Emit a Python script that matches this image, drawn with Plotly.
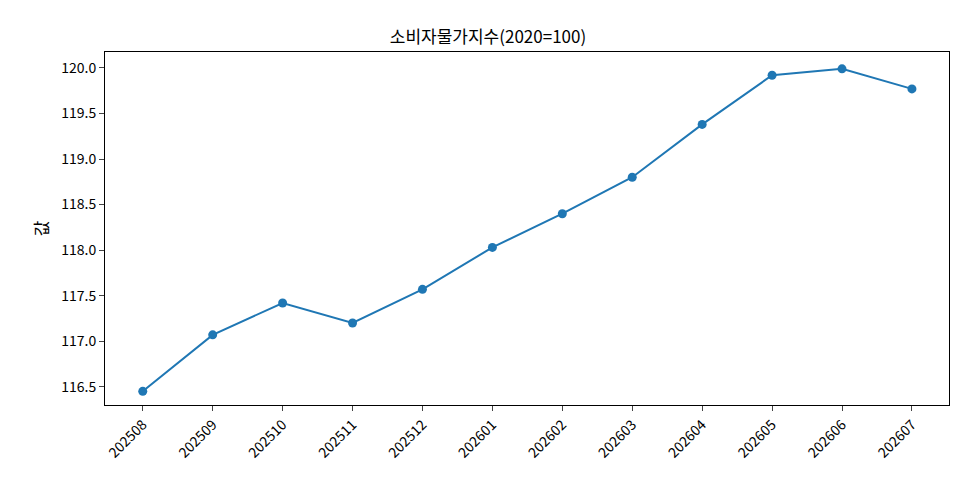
import plotly.graph_objects as go

months = ["202508","202509","202510","202511","202512","202601","202602","202603","202604","202605","202606","202607"]
values = [116.45, 117.07, 117.42, 117.20, 117.57, 118.03, 118.40, 118.80, 119.38, 119.92, 119.99, 119.77]

fig = go.Figure(go.Scatter(x=list(range(len(months))), y=values, mode="lines+markers",
    line=dict(color="#1f77b4", width=2), marker=dict(size=9, color="#1f77b4")))
font = "Noto Sans CJK KR"
fig.update_layout(width=960, height=480, margin=dict(l=97, r=19, t=44, b=83, autoexpand=False),
    plot_bgcolor="white", paper_bgcolor="white", showlegend=False,
    font=dict(family=font, size=14, color="black"),
    title=dict(text="소비자물가지수(2020=100)", x=0.5, xanchor="center", y=0.94, yanchor="middle", font=dict(size=17)),
    xaxis=dict(tickmode="array", tickvals=list(range(len(months))), ticktext=months, tickangle=-45,
        range=[-0.54, 11.53], showgrid=False, zeroline=False, showline=True, mirror=True,
        linecolor="black", ticks="outside", ticklen=5, automargin=False),
    yaxis=dict(range=[116.30, 120.175], dtick=0.5, tickformat=".1f", showgrid=False, zeroline=False,
        showline=True, mirror=True, linecolor="black", ticks="outside", ticklen=5, automargin=False,
        title=dict(text="값", standoff=8)))
fig.write_html("out.html")
